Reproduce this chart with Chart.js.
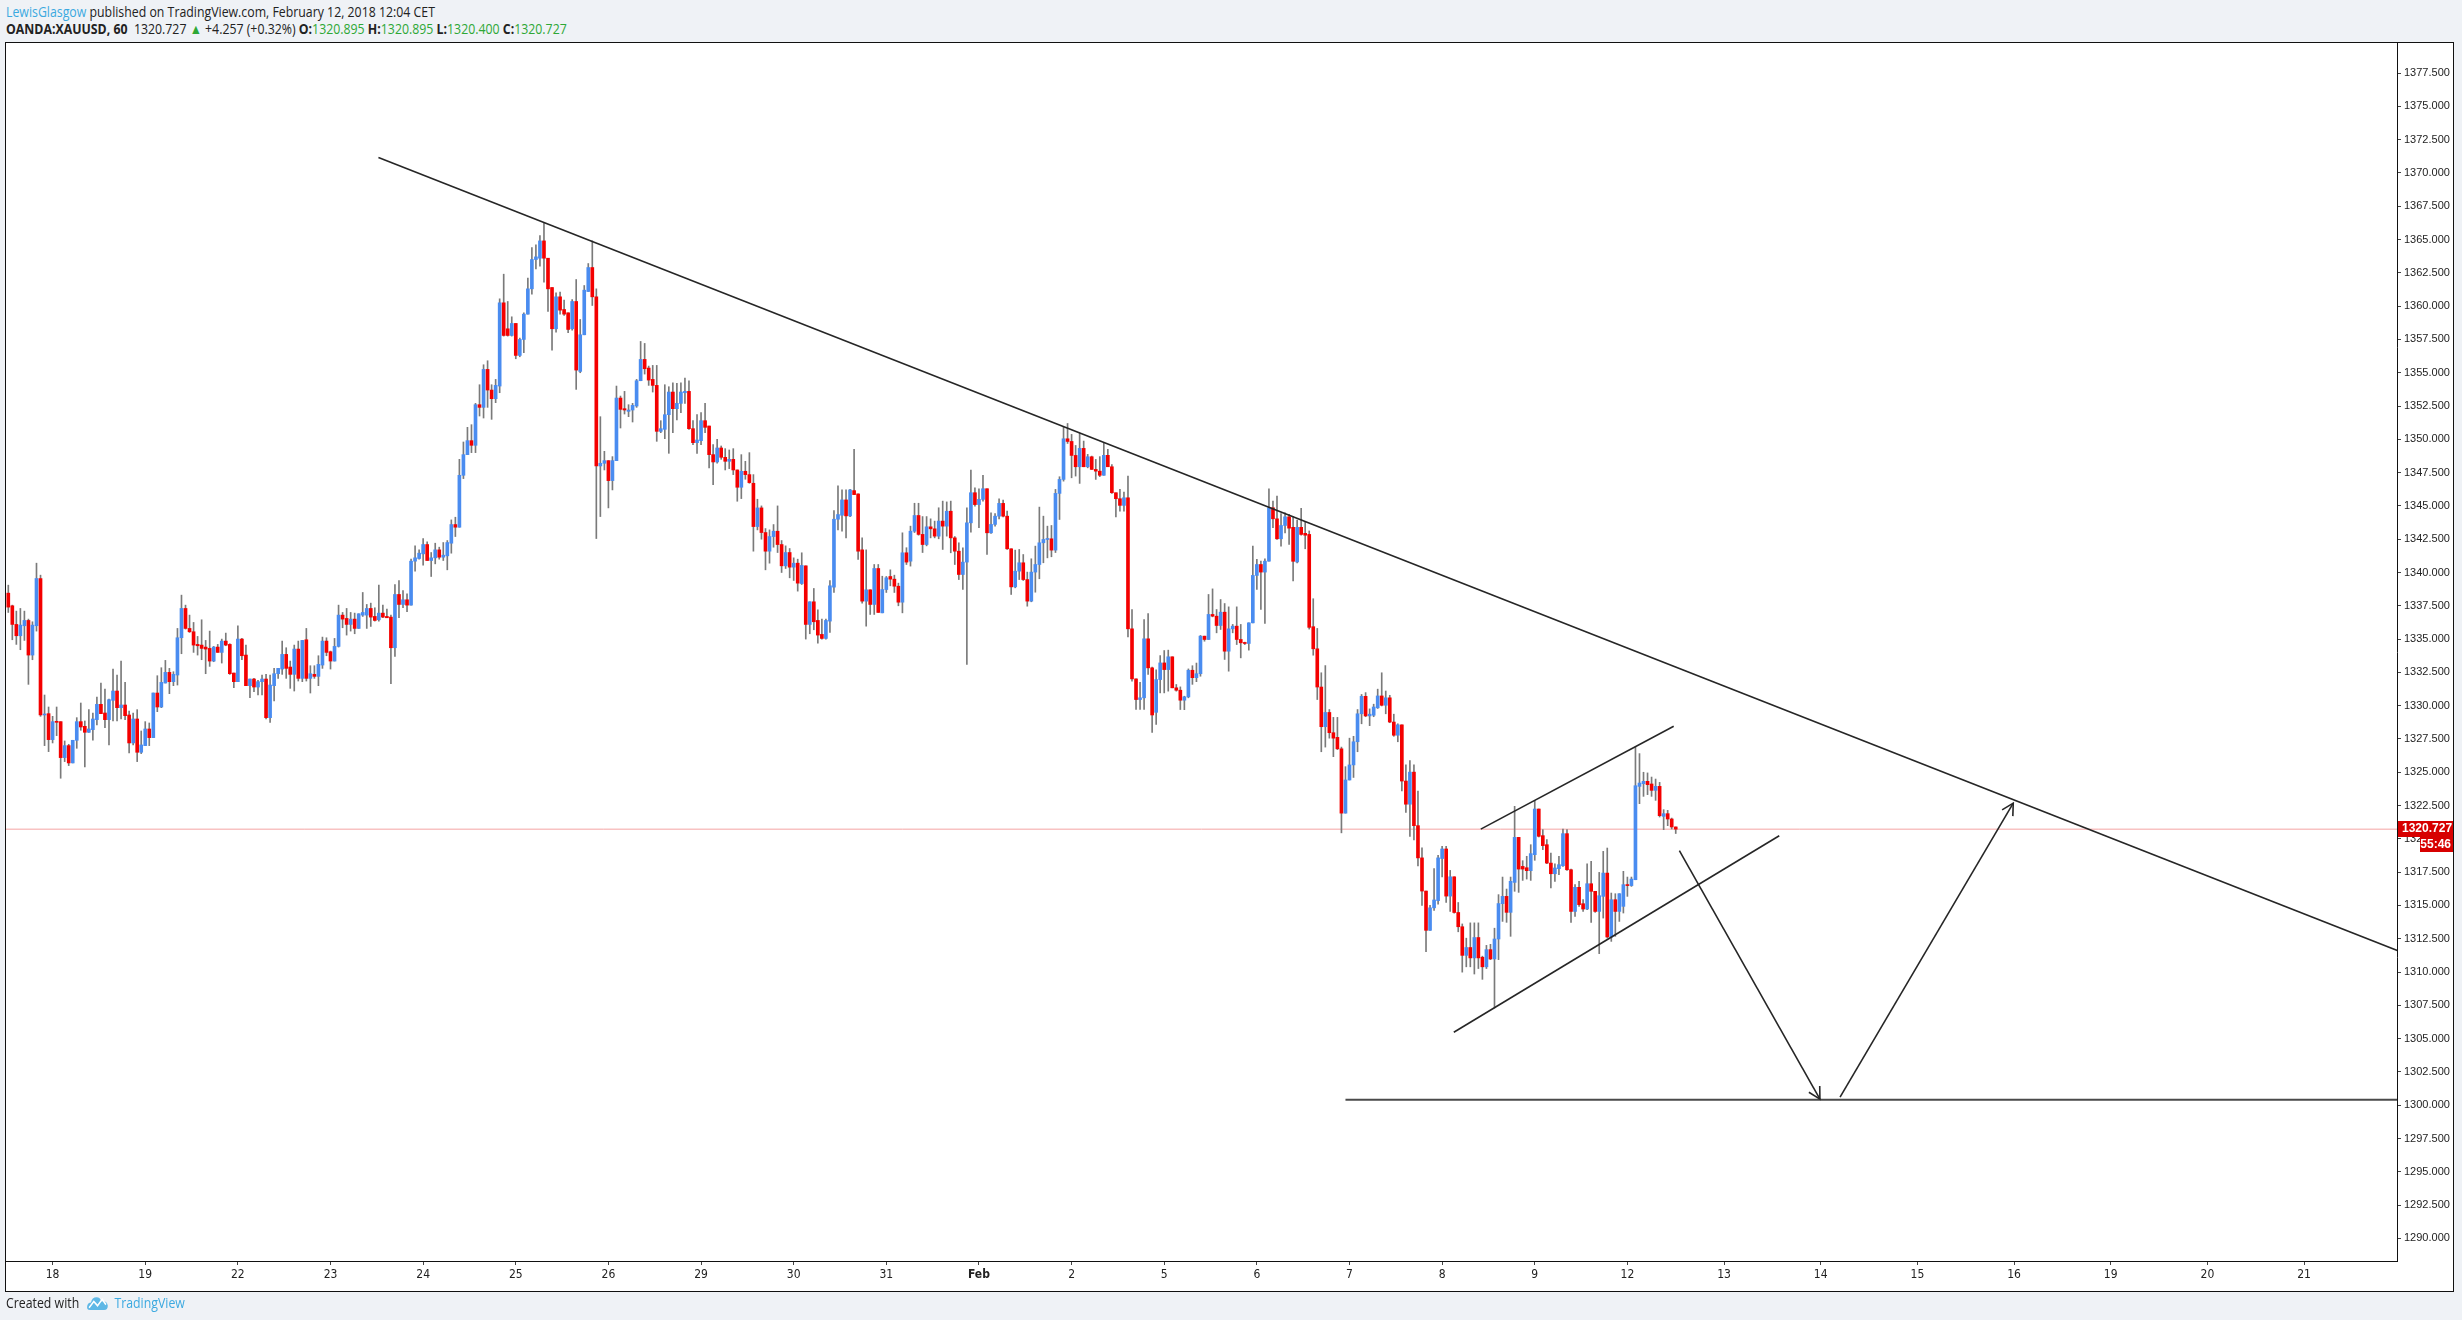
<!DOCTYPE html>
<html>
<head>
<meta charset="utf-8">
<script src="https://cdn.jsdelivr.net/npm/chart.js@4.4.1/dist/chart.umd.min.js"></script>
<style>
  html, body { margin: 0; padding: 0; width: 2462px; height: 1320px; overflow: hidden; background: #eff2f6; }
  #frame { position: absolute; left: 5px; top: 42px; width: 2447px; height: 1248px; border: 1px solid #111; background: #fff; }
  #cv { position: absolute; left: 0; top: 0; }
  .hd { position: absolute; left: 6px; white-space: nowrap; font-family: 'Open Sans', Arial, sans-serif; font-size: 14px; color: #222; transform-origin: 0 0; transform: scaleX(0.88); }
  .hd b { font-weight: 700; }
  .blue { color: #3ba9e0; }
  .grn { color: #2ea836; }
  #l1 { top: 2px; }
  #l2 { top: 19px; }
  #foot { top: 1293px; display: flex; align-items: center; }
  #foot svg { margin: 0 6px 0 8px; }
</style>
</head>
<body>
<div class="hd" id="l1"><span class="blue">LewisGlasgow</span> published on TradingView.com, February 12, 2018 12:04 CET</div>
<div class="hd" id="l2"><b>OANDA:XAUUSD, 60</b>&nbsp; 1320.727 <span class="grn">&#9650;</span> +4.257 (+0.32%) <b>O:</b><span class="grn">1320.895</span> <b>H:</b><span class="grn">1320.895</span> <b>L:</b><span class="grn">1320.400</span> <b>C:</b><span class="grn">1320.727</span></div>
<div id="frame"></div>
<canvas id="cv" width="2462" height="1320"></canvas>
<div class="hd" id="foot"><span>Created with</span>
  <svg width="26" height="17" viewBox="0 0 24 16"><path d="M4 15 Q0 15 1 11 Q2 8 5 8 Q6 3 11 3 Q15 3 16 7 Q22 6 23 11 Q23 15 19 15 Z" fill="#5fb8e6"/><path d="M3 13 L8 7 L12 11 L17 5 L21 10" stroke="#fff" stroke-width="1.6" fill="none"/></svg>
  <span class="blue">TradingView</span></div>
<script>
// hourly OANDA:XAUUSD candles (index 0 = Jan 17 ~13:00)
const opens = [
  1338.45,1337.5,1336.1,1335.25,1336.0,1336.4,1333.8,1336.0,1339.55,1329.3,
  1329.4,1327.45,1328.8,1328.8,1326.1,1327.0,1325.7,1327.4,1328.8,1328.45,
  1328.0,1328.2,1328.95,1330.1,1329.45,1328.95,1330.4,1331.1,1329.85,1330.05,
  1329.3,1327.2,1329.0,1326.5,1327.0,1328.25,1327.6,1330.95,1329.9,1331.7,
  1332.5,1331.8,1332.3,1335.1,1337.3,1335.8,1335.55,1334.6,1334.55,1334.4,
  1334.3,1333.35,1334.4,1334.0,1334.85,1334.6,1332.45,1331.8,1335.0,1333.8,
  1331.5,1332.0,1331.4,1331.8,1332.0,1329.1,1331.5,1332.4,1332.75,1333.85,
  1332.9,1332.35,1334.25,1332.05,1334.95,1332.05,1332.35,1332.2,1333.05,1334.85,
  1334.05,1333.35,1334.45,1336.8,1336.55,1336.1,1336.5,1335.8,1336.8,1336.8,
  1337.3,1336.7,1336.45,1336.95,1336.7,1336.65,1334.35,1338.35,1337.6,1337.95,
  1337.55,1340.85,1341.05,1341.4,1342.1,1340.9,1341.1,1341.7,1341.15,1341.25,
  1342.2,1343.6,1343.4,1347.3,1348.85,1349.9,1349.55,1352.6,1352.4,1355.25,
  1353.7,1353.05,1354.0,1360.25,1358.3,1357.8,1358.7,1356.3,1357.5,1359.4,
  1361.3,1363.5,1363.6,1364.9,1363.6,1361.4,1358.3,1360.7,1359.75,1359.5,
  1358.3,1360.35,1355.1,1357.85,1361.1,1362.9,1360.7,1348.0,1348.2,1348.4,
  1346.9,1348.4,1353.1,1352.3,1352.1,1352.2,1352.5,1354.4,1356.0,1355.35,
  1354.5,1354.05,1350.6,1350.75,1351.85,1353.55,1352.3,1352.7,1353.5,1353.6,
  1350.8,1349.75,1349.9,1351.4,1351.0,1348.85,1348.3,1349.35,1348.65,1348.35,
  1348.5,1347.7,1346.4,1347.6,1347.35,1346.7,1343.45,1344.85,1343.0,1341.6,
  1342.7,1343.1,1342.1,1340.5,1341.5,1340.4,1340.7,1339.17,1340.5,1336.1,
  1337.8,1336.4,1335.35,1335.05,1336.35,1338.9,1344.0,1344.3,1345.45,1344.25,
  1346.15,1345.9,1341.7,1337.85,1338.7,1337.6,1340.3,1336.97,1338.72,1339.7,
  1339.5,1338.97,1337.77,1341.48,1340.85,1343.1,1344.28,1342.86,1342.1,1343.43,
  1343.28,1342.73,1343.86,1343.48,1344.6,1342.6,1341.6,1339.85,1340.78,1343.73,
  1345.99,1345.1,1345.49,1346.29,1342.98,1343.61,1344.23,1345.19,1344.23,1341.78,
  1338.92,1340.1,1340.73,1339.47,1337.85,1340.03,1340.6,1342.23,1342.48,1342.53,
  1341.68,1345.94,1346.99,1350.04,1349.84,1348.79,1347.94,1349.32,1347.94,1348.69,
  1347.74,1347.61,1347.3,1348.8,1347.94,1345.99,1345.54,1345.04,1345.61,1335.77,
  1332.01,1330.46,1330.59,1335.02,1332.84,1329.5,1331.96,1333.21,1332.71,1333.67,
  1331.34,1331.16,1330.41,1330.66,1332.66,1332.1,1332.4,1335.22,1334.97,1336.85,
  1336.72,1336.02,1337.02,1334.09,1335.77,1335.97,1334.97,1334.72,1334.67,1336.22,
  1339.78,1340.6,1340.03,1340.85,1344.86,1344.03,1342.53,1343.53,1344.18,1343.39,
  1340.79,1343.39,1342.94,1342.86,1335.93,1334.27,1331.4,1328.42,1329.49,1327.97,
  1327.62,1326.76,1321.93,1324.42,1325.55,1327.29,1329.39,1330.7,1329.23,1329.28,
  1329.84,1330.73,1330.03,1330.59,1328.77,1327.78,1328.56,1324.34,1322.6,1325.01,
  1320.99,1318.57,1316.08,1313.13,1314.82,1315.36,1318.52,1319.24,1315.7,1317.15,
  1314.47,1313.4,1311.25,1311.84,1311.06,1312.59,1311.11,1310.39,1311.68,1310.98,
  1312.48,1315.13,1315.68,1314.48,1316.73,1320.11,1317.93,1317.83,1317.61,1318.81,
  1322.24,1320.24,1319.56,1318.18,1317.38,1317.76,1317.98,1320.39,1317.68,1314.55,
  1316.36,1315.13,1314.73,1316.63,1316.06,1314.55,1315.68,1317.43,1312.63,1315.43,
  1314.55,1314.93,1316.56,1316.49,1316.93,1323.94,1324.14,1324.32,1324.12,1323.64,
  1323.94,1321.69,1321.89,1321.49,1320.895
];
const highs = [
  1339.05,1337.55,1337.1,1337.3,1337.1,1336.5,1336.3,1340.7,1339.8,1330.8,
  1329.9,1329.2,1329.9,1328.8,1327.35,1327.1,1327.4,1329.1,1330.2,1328.85,
  1329.7,1329.45,1330.65,1331.7,1331.25,1330.5,1332.75,1332.3,1333.35,1331.75,
  1329.6,1329.45,1329.7,1328.1,1328.8,1328.7,1330.95,1332.25,1332.85,1333.4,
  1332.8,1332.55,1335.8,1338.3,1337.55,1336.8,1336.25,1335.2,1336.45,1334.9,
  1335.6,1334.45,1334.6,1335.0,1335.45,1334.65,1332.45,1336.0,1335.05,1334.55,
  1332.0,1332.05,1331.9,1332.3,1332.35,1332.3,1332.8,1332.8,1334.85,1334.35,
  1333.35,1334.55,1334.85,1334.9,1335.8,1333.0,1333.0,1333.75,1335.15,1335.1,
  1334.1,1335.05,1337.55,1337.0,1337.3,1337.0,1336.95,1336.9,1338.5,1337.6,
  1337.7,1337.35,1339.05,1337.55,1337.25,1336.8,1339.1,1339.4,1338.65,1338.4,
  1341.0,1342.0,1341.7,1342.55,1342.3,1341.5,1342.2,1341.9,1342.25,1342.4,
  1343.95,1344.15,1348.5,1349.8,1350.9,1351.1,1352.7,1354.1,1355.6,1355.9,
  1354.1,1354.5,1360.55,1362.4,1360.35,1359.2,1358.7,1357.6,1359.5,1362.1,
  1364.4,1364.6,1365.3,1366.3,1363.6,1361.4,1361.0,1361.05,1360.45,1359.5,
  1360.5,1362.0,1359.0,1361.55,1363.2,1364.9,1361.3,1351.7,1349.1,1348.4,
  1348.7,1354.0,1353.25,1353.6,1352.6,1352.7,1354.5,1357.35,1357.2,1355.5,
  1355.55,1355.55,1351.4,1354.1,1353.95,1354.25,1354.2,1354.25,1354.6,1354.4,
  1351.4,1351.85,1352.0,1352.7,1351.0,1349.6,1350.0,1349.5,1349.3,1349.2,
  1349.3,1347.7,1348.85,1348.35,1349.0,1347.35,1345.5,1345.0,1343.3,1343.2,
  1343.6,1345.0,1342.4,1342.0,1341.8,1341.1,1341.0,1341.48,1340.5,1337.8,
  1338.8,1337.2,1336.5,1336.5,1339.4,1344.65,1346.5,1346.2,1346.2,1346.25,
  1349.25,1345.9,1342.6,1341.7,1338.7,1340.6,1340.6,1339.72,1339.7,1340.2,
  1339.8,1339.2,1342.98,1341.86,1343.48,1345.2,1345.2,1344.2,1344.2,1344.03,
  1343.86,1344.86,1345.36,1345.3,1345.36,1342.7,1342.23,1341.86,1344.86,1347.69,
  1346.36,1346.29,1347.29,1346.29,1344.48,1344.43,1345.54,1345.44,1344.61,1341.78,
  1341.68,1341.73,1341.35,1340.03,1341.03,1341.98,1344.91,1344.23,1343.48,1343.53,
  1346.24,1347.19,1350.94,1351.19,1350.37,1349.54,1350.44,1349.87,1348.87,1348.74,
  1348.49,1348.7,1349.7,1349.24,1348.11,1345.99,1346.24,1346.04,1347.24,1337.22,
  1332.01,1331.76,1336.47,1336.92,1332.9,1332.7,1333.76,1334.14,1334.17,1333.67,
  1331.59,1331.41,1330.71,1332.76,1333.0,1333.2,1335.27,1335.22,1338.35,1338.77,
  1337.22,1337.97,1337.67,1337.42,1336.1,1337.42,1336.1,1334.77,1336.22,1341.98,
  1340.98,1340.85,1341.03,1346.29,1345.36,1345.74,1344.43,1344.48,1344.36,1344.2,
  1343.93,1344.81,1343.79,1343.12,1338.03,1335.8,1332.47,1333.01,1329.71,1329.12,
  1329.12,1326.89,1325.42,1327.56,1327.7,1329.71,1330.84,1330.98,1329.76,1330.11,
  1331.24,1332.47,1331.1,1330.78,1329.36,1328.64,1328.56,1325.55,1325.87,1325.55,
  1323.59,1319.33,1316.08,1315.01,1317.77,1318.76,1319.43,1319.43,1317.63,1317.15,
  1315.22,1313.61,1312.54,1313.69,1313.69,1313.69,1311.19,1312.0,1312.08,1313.29,
  1315.81,1317.13,1316.23,1317.13,1322.44,1320.11,1318.36,1318.69,1319.56,1322.89,
  1322.24,1320.69,1319.94,1318.94,1318.13,1318.69,1320.74,1320.69,1317.73,1316.56,
  1316.81,1315.43,1318.13,1318.31,1316.06,1317.48,1319.06,1319.31,1315.93,1315.88,
  1315.88,1317.56,1317.13,1317.13,1326.9,1326.4,1325.0,1324.95,1324.64,1324.49,
  1324.24,1322.19,1322.14,1321.56,1320.895
];
const lows = [
  1337.0,1334.95,1334.6,1334.2,1334.9,1331.6,1333.45,1335.6,1329.2,1327.0,
  1326.55,1327.2,1327.75,1324.55,1325.8,1325.5,1325.7,1326.8,1328.15,1325.4,
  1328.0,1327.4,1328.55,1329.4,1328.35,1327.05,1328.85,1328.85,1329.0,1328.95,
  1326.45,1327.05,1325.8,1326.4,1327.0,1327.0,1327.6,1329.55,1329.85,1331.7,
  1330.9,1331.5,1331.55,1333.9,1335.75,1335.5,1334.0,1333.8,1333.45,1332.4,
  1332.95,1333.3,1334.0,1333.2,1334.5,1332.35,1331.35,1331.8,1333.45,1331.5,
  1330.6,1331.05,1330.8,1330.8,1329.0,1328.75,1330.35,1332.05,1332.35,1332.05,
  1331.3,1331.1,1331.85,1331.8,1331.85,1330.95,1332.05,1331.5,1332.8,1333.75,
  1332.75,1333.35,1334.4,1335.85,1335.3,1335.6,1335.4,1335.8,1336.7,1335.8,
  1335.95,1336.35,1336.35,1336.6,1336.6,1331.65,1333.7,1336.6,1337.35,1337.05,
  1337.55,1340.1,1341.0,1340.55,1340.9,1339.7,1340.65,1341.0,1340.9,1340.2,
  1341.45,1342.7,1343.4,1347.05,1348.85,1349.0,1349.0,1351.75,1351.6,1352.4,
  1351.5,1352.75,1353.5,1357.75,1357.75,1357.75,1356.05,1356.2,1356.5,1359.4,
  1360.9,1362.8,1363.0,1361.8,1359.6,1356.7,1358.05,1359.4,1359.3,1358.0,
  1358.2,1353.75,1355.0,1357.85,1361.1,1360.05,1342.55,1344.2,1347.7,1344.85,
  1346.2,1348.4,1350.85,1351.9,1351.7,1351.3,1352.4,1354.4,1354.9,1354.05,
  1353.55,1349.85,1350.5,1350.05,1348.95,1350.5,1351.45,1352.0,1352.7,1350.75,
  1349.6,1348.95,1349.6,1350.5,1347.85,1346.6,1348.2,1348.5,1347.7,1347.8,
  1347.35,1345.35,1345.55,1347.0,1346.7,1341.6,1343.2,1342.5,1340.2,1340.7,
  1341.9,1341.5,1340.0,1340.3,1339.6,1339.4,1338.6,1339.1,1335.0,1335.4,
  1335.7,1334.7,1335.0,1335.0,1335.5,1338.5,1343.2,1343.1,1342.6,1344.2,
  1345.85,1340.98,1337.7,1335.97,1336.85,1336.85,1337.0,1336.97,1338.5,1339.0,
  1338.5,1337.5,1336.97,1340.6,1340.48,1343.0,1342.8,1341.5,1342.0,1342.6,
  1342.6,1342.53,1341.73,1342.73,1341.48,1340.6,1339.47,1338.72,1333.09,1343.03,
  1344.98,1343.36,1345.36,1341.35,1342.93,1343.48,1344.03,1344.18,1341.73,1338.35,
  1338.85,1339.47,1339.4,1337.47,1337.8,1338.52,1339.53,1340.73,1341.1,1341.18,
  1341.5,1343.98,1346.86,1349.69,1347.11,1347.24,1346.69,1347.94,1347.86,1347.74,
  1346.99,1347.2,1347.3,1347.94,1345.94,1344.18,1344.61,1344.61,1335.17,1331.84,
  1329.71,1329.71,1329.71,1332.34,1328.0,1328.6,1330.96,1330.96,1331.09,1331.34,
  1331.09,1329.71,1329.7,1330.59,1331.6,1331.8,1332.21,1334.84,1334.97,1336.67,
  1335.47,1335.72,1333.47,1332.59,1335.47,1334.59,1333.59,1334.59,1334.17,1336.22,
  1338.72,1337.22,1336.17,1340.85,1343.36,1342.48,1341.98,1342.98,1342.1,1339.37,
  1340.71,1342.8,1341.78,1335.75,1333.79,1330.46,1326.54,1326.89,1327.56,1326.17,
  1326.7,1320.45,1321.93,1324.42,1324.61,1326.54,1328.64,1329.17,1328.5,1329.17,
  1329.79,1329.98,1329.39,1328.72,1327.7,1327.29,1323.59,1321.98,1320.18,1319.92,
  1317.96,1315.01,1311.52,1313.13,1314.63,1315.09,1317.15,1315.22,1314.55,1314.42,
  1313.02,1309.99,1310.39,1310.39,1309.85,1310.26,1309.45,1310.26,1310.93,1307.3,
  1310.93,1313.8,1313.73,1312.68,1316.06,1315.98,1316.88,1316.98,1316.88,1318.39,
  1320.14,1319.19,1318.13,1316.31,1316.81,1317.31,1317.93,1317.63,1313.73,1314.18,
  1314.93,1314.55,1314.68,1313.73,1314.48,1311.38,1314.05,1312.55,1312.3,1312.68,
  1313.8,1314.43,1315.68,1316.43,1316.93,1322.64,1323.19,1323.32,1323.19,1322.89,
  1321.64,1320.69,1320.99,1320.74,1320.4
];
const closes = [
  1337.4,1336.1,1335.25,1336.05,1336.4,1333.8,1336.05,1339.55,1329.3,1329.35,
  1327.45,1328.8,1328.75,1326.1,1327.0,1325.7,1327.4,1328.8,1328.4,1328.0,
  1328.25,1329.0,1330.1,1329.4,1328.95,1330.45,1331.1,1329.85,1330.05,1329.25,
  1327.2,1329.0,1326.5,1327.05,1328.25,1327.6,1330.95,1329.9,1331.75,1332.5,
  1331.8,1332.35,1335.1,1337.3,1335.8,1335.55,1334.55,1334.5,1334.3,1334.25,
  1333.35,1334.4,1334.0,1334.85,1334.55,1332.4,1331.8,1335.0,1333.75,1331.5,
  1332.0,1331.4,1331.8,1332.0,1329.1,1331.55,1332.4,1332.8,1333.85,1332.8,
  1332.35,1334.25,1332.05,1334.9,1332.05,1332.4,1332.2,1333.1,1334.85,1334.0,
  1333.35,1334.45,1336.8,1336.5,1336.1,1336.5,1335.8,1336.9,1337.0,1337.3,
  1336.65,1336.4,1336.95,1336.65,1336.6,1334.35,1338.35,1337.6,1337.95,1337.55,
  1340.85,1341.1,1341.45,1342.1,1340.9,1341.1,1341.7,1341.15,1341.3,1342.25,
  1343.6,1343.4,1347.3,1348.85,1349.9,1349.55,1352.6,1352.4,1355.25,1353.7,
  1353.05,1354.05,1360.25,1357.8,1357.8,1358.7,1356.3,1357.5,1359.4,1361.3,
  1363.5,1363.7,1364.9,1363.6,1361.3,1358.3,1360.7,1359.7,1359.4,1358.25,
  1360.35,1355.2,1357.85,1361.2,1362.9,1360.7,1348.0,1348.2,1348.4,1346.9,
  1348.4,1353.1,1352.25,1352.2,1352.2,1352.55,1354.4,1356.0,1355.3,1354.45,
  1354.05,1350.6,1350.8,1351.85,1353.55,1352.3,1352.7,1353.55,1353.6,1350.8,
  1349.75,1349.95,1351.4,1350.9,1348.85,1348.3,1349.35,1348.65,1348.35,1348.5,
  1347.7,1346.4,1347.6,1347.35,1346.75,1343.45,1344.85,1343.0,1341.6,1342.7,
  1343.1,1342.1,1340.5,1341.5,1340.4,1340.7,1339.2,1340.53,1336.1,1337.8,
  1336.3,1335.3,1335.05,1336.4,1339.0,1344.0,1344.35,1345.45,1344.25,1346.2,
  1345.85,1341.6,1337.85,1338.7,1337.6,1340.3,1337.0,1338.72,1339.6,1339.5,
  1338.97,1337.77,1341.48,1340.78,1343.1,1344.28,1342.86,1342.1,1343.43,1343.28,
  1342.73,1343.86,1343.48,1344.6,1342.6,1341.6,1339.85,1340.78,1343.73,1345.99,
  1345.1,1345.49,1346.29,1342.98,1343.61,1344.23,1345.19,1344.23,1341.78,1338.92,
  1340.1,1340.73,1339.47,1337.85,1340.03,1340.6,1342.23,1342.48,1342.53,1341.68,
  1345.94,1346.99,1350.04,1349.84,1348.79,1347.94,1349.32,1347.94,1348.69,1347.74,
  1347.61,1347.3,1348.8,1347.94,1345.99,1345.54,1345.04,1345.61,1335.77,1332.01,
  1330.46,1330.59,1335.02,1332.84,1329.3,1331.96,1333.21,1332.71,1333.67,1331.34,
  1331.16,1330.41,1330.66,1332.66,1332.1,1332.4,1335.22,1334.97,1336.85,1336.72,
  1336.02,1337.02,1334.09,1335.77,1335.97,1334.97,1334.72,1334.67,1336.22,1339.78,
  1340.6,1340.03,1340.85,1344.86,1344.03,1342.53,1343.53,1344.18,1343.33,1340.84,
  1343.39,1342.86,1342.8,1335.88,1334.27,1331.4,1328.42,1329.49,1327.97,1327.56,
  1326.76,1321.93,1324.42,1325.55,1327.29,1329.39,1330.7,1329.23,1329.36,1329.9,
  1330.73,1330.03,1330.59,1328.77,1327.78,1328.56,1324.34,1322.6,1325.01,1320.99,
  1318.57,1316.08,1313.13,1314.82,1315.41,1318.57,1319.24,1315.7,1317.15,1314.47,
  1313.4,1311.25,1311.84,1311.06,1312.59,1311.06,1310.39,1311.68,1310.98,1312.48,
  1315.14,1315.68,1314.48,1316.81,1320.11,1317.73,1317.73,1317.61,1318.89,1322.24,
  1320.19,1319.49,1318.18,1317.38,1317.81,1318.06,1320.39,1317.68,1314.55,1316.36,
  1315.06,1314.73,1316.63,1316.06,1314.55,1315.73,1317.43,1312.63,1315.43,1314.55,
  1315.88,1316.56,1316.49,1316.98,1323.99,1324.19,1324.32,1324.07,1323.64,1323.94,
  1321.74,1321.89,1321.49,1320.89,1320.727
];

// time axis: bar index where each day starts + its label (future days are projected)
const dayTicks  = [11, 34, 57, 80, 103, 126, 149, 172, 195, 218, 241, 264, 287, 310, 333, 356, 379, 402, 426, 450, 474, 498, 522, 546, 570];
const dayLabels = ['18','19','22','23','24','25','26','29','30','31','Feb','2','5','6','7','8','9','12','13','14','15','16','19','20','21'];
const priceTicks = [1290, 1292.5, 1295, 1297.5, 1300, 1302.5, 1305, 1307.5, 1310, 1312.5, 1315, 1317.5, 1320, 1322.5,
  1325, 1327.5, 1330, 1332.5, 1335, 1337.5, 1340, 1342.5, 1345, 1347.5, 1350, 1352.5, 1355, 1357.5, 1360, 1362.5,
  1365, 1367.5, 1370, 1372.5, 1375, 1377.5];

// hand-drawn studies, as [bar index, price] pairs
const trendLine     = [[91.9, 1371.16], [600, 1310.81]];
const channelTop    = [[365.6, 1320.73], [413.5, 1328.45]];
const channelBottom = [[358.9, 1305.48], [439.7, 1320.23]];
const targetLevel   = [[332.0, 1300.4], [600, 1300.4]];
const arrowDown     = [[414.9, 1319.12], [449.8, 1300.46]];
const arrowUp       = [[454.8, 1300.61], [497.8, 1322.68]];

const UP = '#4a8cf0', DOWN = '#f40000', WICK = '#7a7a7a', INK = '#262626';
const lastClose = closes[closes.length - 1];
const AX_FONT = "'Liberation Sans', Arial, sans-serif";
const TIME_FONT = "'Liberation Sans Narrow', 'DejaVu Sans Condensed', Arial, sans-serif";

const idx = opens.map((_, i) => i);
const bodies = idx.map((i) => ({ x: i, y: [Math.min(opens[i], closes[i]), Math.max(opens[i], closes[i])] }));
const wicks = idx.map((i) => ({ x: i, y: [lows[i], highs[i]] }));
const bodyColors = idx.map((i) => (closes[i] >= opens[i] ? UP : DOWN));
const pts = (seg) => seg.map((p) => ({ x: p[0], y: p[1] }));
const drawing = (seg) => ({ type: 'line', data: pts(seg), borderColor: INK, borderWidth: 1.6, pointRadius: 0, fill: false, order: -1 });

// open arrow heads on the two projection arrows
const arrowHeads = {
  id: 'arrowHeads',
  afterDatasetsDraw(chart) {
    const { ctx, scales: { x, y } } = chart;
    ctx.save(); ctx.strokeStyle = INK; ctx.lineWidth = 1.6;
    [arrowDown, arrowUp].forEach((seg) => {
      const x1 = x.getPixelForValue(seg[0][0]), y1 = y.getPixelForValue(seg[0][1]);
      const x2 = x.getPixelForValue(seg[1][0]), y2 = y.getPixelForValue(seg[1][1]);
      const a = Math.atan2(y2 - y1, x2 - x1), len = 13, spread = 0.5;
      ctx.beginPath();
      ctx.moveTo(x2 - len * Math.cos(a - spread), y2 - len * Math.sin(a - spread)); ctx.lineTo(x2, y2);
      ctx.lineTo(x2 - len * Math.cos(a + spread), y2 - len * Math.sin(a + spread));
      ctx.stroke();
    });
    ctx.restore();
  },
};

// last-price tag + bar countdown on the price scale
const priceTag = {
  id: 'priceTag',
  afterDraw(chart) {
    const { ctx, chartArea, scales: { y } } = chart;
    const py = Math.round(y.getPixelForValue(lastClose)), left = chartArea.right + 1, w = y.width - 1;
    ctx.save();
    ctx.fillStyle = '#d70000';
    ctx.fillRect(left, py - 8, w, 16);
    ctx.fillRect(left + w - 33, py + 8, 33, 15);
    ctx.fillStyle = '#fff'; ctx.font = `bold 12px ${AX_FONT}`; ctx.textBaseline = 'middle';
    ctx.textAlign = 'left'; ctx.fillText(lastClose.toFixed(3), left + 4, py);
    ctx.textAlign = 'right'; ctx.fillText('55:46', left + w - 2, py + 16);
    ctx.restore();
  },
};

new Chart(document.getElementById('cv'), {
  type: 'bar',
  data: {
    datasets: [
      { label: 'body', data: bodies, backgroundColor: bodyColors, barThickness: 3, minBarLength: 1, grouped: false, order: 0 },
      { label: 'wick', data: wicks, backgroundColor: WICK, barThickness: 1, grouped: false, order: 1 },
      { type: 'line', data: pts([[-1, lastClose], [600, lastClose]]), borderColor: '#f4a3a3', borderWidth: 1, pointRadius: 0, order: 3 },
      drawing(trendLine), drawing(channelTop), drawing(channelBottom),
      { ...drawing(targetLevel), borderColor: '#4a4a4a', borderWidth: 2 },
      drawing(arrowDown), drawing(arrowUp),
    ],
  },
  options: {
    responsive: false, animation: false, devicePixelRatio: 1,
    layout: { padding: { left: 6, top: 43, right: 9, bottom: 29 } },
    plugins: { legend: { display: false }, tooltip: { enabled: false } },
    scales: {
      x: {
        type: 'linear', min: -0.57, max: 593.08, offset: false,
        afterFit: (s) => { s.height = 30; },
        afterBuildTicks: (s) => { s.ticks = dayTicks.map((v) => ({ value: v })); },
        ticks: {
          autoSkip: false, maxRotation: 0, padding: 3, color: '#222',
          callback: (v, i) => dayLabels[i],
          font: (c) => ({ family: TIME_FONT, size: 12, weight: dayLabels[c.index] === 'Feb' ? 'bold' : 'normal' }),
        },
        grid: { drawOnChartArea: false, offset: false, tickLength: 4, color: '#444' },
        border: { color: '#111', width: 1 },
      },
      y: {
        position: 'right', min: 1288.30, max: 1379.76,
        afterFit: (s) => { s.width = 56; },
        afterBuildTicks: (s) => { s.ticks = priceTicks.map((v) => ({ value: v })); },
        ticks: { padding: 3, color: '#222', font: { family: AX_FONT, size: 11 }, callback: (v) => v.toFixed(3) },
        grid: { drawOnChartArea: false, tickLength: 4, color: '#444' },
        border: { color: '#111', width: 1 },
      },
    },
  },
  plugins: [arrowHeads, priceTag],
});
</script>
</body>
</html>
